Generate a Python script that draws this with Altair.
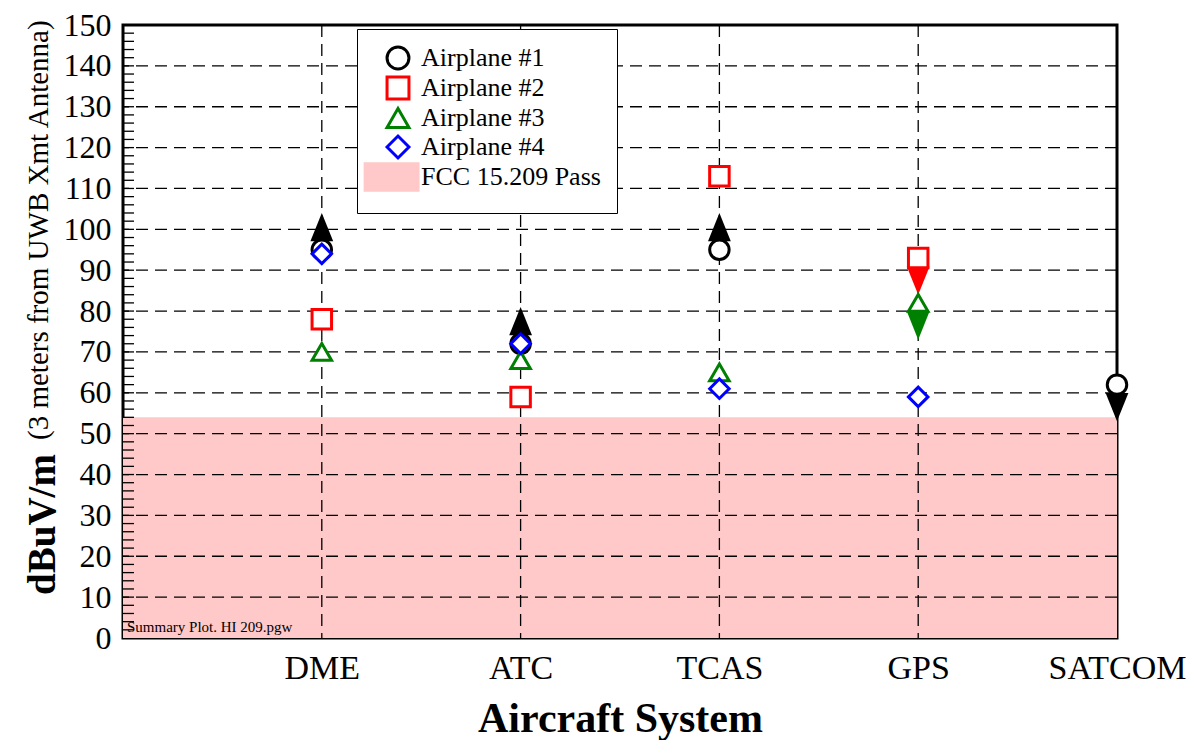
import altair as alt
import pandas as pd

# ---------------- data ----------------
SYSTEMS = ["DME", "ATC", "TCAS", "GPS", "SATCOM"]
SERIES = ["Airplane #1", "Airplane #2", "Airplane #3", "Airplane #4"]
AIRPLANE_1 = [95, 72, 95, None, 62]
AIRPLANE_2 = [78, 59, 113, 93, None]
AIRPLANE_3 = [70, 68, 65, 82, None]
AIRPLANE_4 = [94, 72, 61, 59, None]
FCC_LABEL = "FCC 15.209 Pass"
FCC_LIMIT = 54
# measured values that are bounds (arrow direction)
ARROW_SYSTEM = ["DME", "ATC", "TCAS", "GPS", "GPS", "SATCOM"]
ARROW_SERIES = ["Airplane #1", "Airplane #1", "Airplane #1", "Airplane #2", "Airplane #3", "Airplane #1"]
ARROW_DIR = ["up", "up", "up", "down", "down", "down"]
Y_TICKS = list(range(0, 151, 10))
Y_GRID = list(range(10, 141, 10))
Y_MINOR = list(range(2, 150, 2))
X_GRID = [1, 2, 3, 4]

COLORS = ["black", "red", "green", "blue"]
FCC_COLOR = "#FFC9C9"
FONT = "Liberation Serif"

W, H = 994, 613

values = {
    "Airplane #1": AIRPLANE_1,
    "Airplane #2": AIRPLANE_2,
    "Airplane #3": AIRPLANE_3,
    "Airplane #4": AIRPLANE_4,
}
rows = []
for s in SERIES:
    for i, sysname in enumerate(SYSTEMS):
        v = values[s][i]
        if v is not None:
            rows.append({"series": s, "system": sysname, "xpos": i + 1, "value": v})
points_df = pd.DataFrame(rows)

arrow_rows = []
for sysname, s, d in zip(ARROW_SYSTEM, ARROW_SERIES, ARROW_DIR):
    i = SYSTEMS.index(sysname)
    arrow_rows.append({"series": s, "system": sysname, "xpos": i + 1,
                       "value": values[s][i], "dir": d})
arrows_df = pd.DataFrame(arrow_rows)

legend_domain = SERIES + [FCC_LABEL]
rect_path = "M-3,-1.2L1.83,-1.2L1.83,1.2L-3,1.2Z"

xscale = alt.Scale(domain=[0, 5], nice=False, zero=False)
yscale = alt.Scale(domain=[0, 150], nice=False)

x_axis = alt.Axis(
    values=[1, 2, 3, 4, 5],
    labelExpr="['', 'DME', 'ATC', 'TCAS', 'GPS', 'SATCOM'][datum.value]",
    ticks=False, grid=False, domain=False,
    labelFont=FONT, labelFontSize=34, labelColor="black", labelPadding=13,
    labelOverlap=False, labelFlush=False,
    title="Aircraft System", titleFont=FONT, titleFontSize=42, titleFontWeight="bold",
    titleColor="black", titlePadding=13,
)
y_axis = alt.Axis(
    values=Y_TICKS, ticks=False, grid=False, domain=False,
    labelFont=FONT, labelFontSize=32, labelColor="black", labelPadding=12,
    labelFlush=False, labelOverlap=False, title=None,
)

# pink band
band = alt.Chart(pd.DataFrame({"lo": [0], "hi": [FCC_LIMIT]})).mark_rect(
    color=FCC_COLOR
).encode(
    x=alt.datum(0, scale=xscale, axis=x_axis),
    x2=alt.datum(5),
    y=alt.Y("lo:Q", scale=yscale, axis=y_axis),
    y2="hi:Q",
)

hgrid = alt.Chart(pd.DataFrame({"g": Y_GRID})).mark_rule(
    color="black", strokeWidth=1.3, strokeDash=[12, 7]
).encode(y=alt.Y("g:Q", scale=yscale))

vgrid = alt.Chart(pd.DataFrame({"g": X_GRID})).mark_rule(
    color="black", strokeWidth=1.3, strokeDash=[12, 7]
).encode(x=alt.X("g:Q", scale=xscale))

minor = alt.Chart(pd.DataFrame({"t": Y_MINOR})).mark_rule(
    color="black", strokeWidth=1.3
).encode(y=alt.Y("t:Q", scale=yscale), x=alt.value(0), x2=alt.value(11))

arrow_color = alt.Color("series:N", scale=alt.Scale(domain=SERIES, range=COLORS), legend=None)
arrows_up = alt.Chart(arrows_df).transform_filter(alt.datum.dir == "up").mark_point(
    shape="M-0.31,-0.23L0.31,-0.23L0,-1Z", size=5400, filled=True, opacity=1
).encode(x=alt.X("xpos:Q", scale=xscale), y=alt.Y("value:Q", scale=yscale), color=arrow_color)
arrows_down = alt.Chart(arrows_df).transform_filter(alt.datum.dir == "down").mark_point(
    shape="M-0.31,0.23L0.31,0.23L0,1Z", size=5400, filled=True, opacity=1
).encode(x=alt.X("xpos:Q", scale=xscale), y=alt.Y("value:Q", scale=yscale), color=arrow_color)

legend = alt.Legend(
    title=None, orient="none", legendX=234, legendY=4,
    labelFont=FONT, labelFontSize=26, labelColor="black", labelLimit=400,
    symbolSize=480, symbolStrokeWidth=3, symbolOffset=12, labelOffset=10,
    padding=16, rowPadding=-12, strokeColor="black", fillColor="white",
    symbolOpacity=1,
)
markers = alt.Chart(points_df).mark_point(size=380, strokeWidth=3, opacity=1, fillOpacity=1).encode(
    x=alt.X("xpos:Q", scale=xscale),
    y=alt.Y("value:Q", scale=yscale),
    stroke=alt.Stroke("series:N", scale=alt.Scale(domain=legend_domain, range=COLORS + [FCC_COLOR]), legend=legend),
    fill=alt.Fill("series:N", scale=alt.Scale(domain=legend_domain, range=["white"] * 4 + [FCC_COLOR]), legend=legend),
    shape=alt.Shape("series:N", scale=alt.Scale(domain=legend_domain,
                    range=["circle", "square", "triangle-up", "diamond", rect_path]), legend=legend),
)

ytitle = alt.Chart(pd.DataFrame({"t": ["dBuV/m"]})).mark_text(
    angle=270, align="left", baseline="alphabetic", font=FONT, fontSize=39,
    fontWeight="bold", color="black"
).encode(text="t:N", x=alt.value(-68), y=alt.value(570))

ysub = alt.Chart(pd.DataFrame({"t": ["(3 meters from UWB Xmt Antenna)"]})).mark_text(
    angle=270, align="left", baseline="alphabetic", font=FONT, fontSize=29, color="black"
).encode(text="t:N", x=alt.value(-75), y=alt.value(415))

note = alt.Chart(pd.DataFrame({"t": ["Summary Plot. HI 209.pgw"]})).mark_text(
    align="left", baseline="alphabetic", font=FONT, fontSize=15, color="black"
).encode(text="t:N", x=alt.value(4), y=alt.value(607))

chart = alt.layer(
    band, hgrid, vgrid, minor, note, arrows_up, arrows_down, markers, ytitle, ysub
).properties(
    width=W, height=H,
    autosize=alt.AutoSizeParams(type="none"),
    padding={"left": 115, "top": 17, "right": 72, "bottom": 102},
).configure(
    font=FONT
).configure_view(
    stroke="black", strokeWidth=3
).configure_legend(
    labelFont=FONT
).configure_text(
    font=FONT
)

chart.save("out.html", embed_options={"renderer": "svg", "actions": False})
